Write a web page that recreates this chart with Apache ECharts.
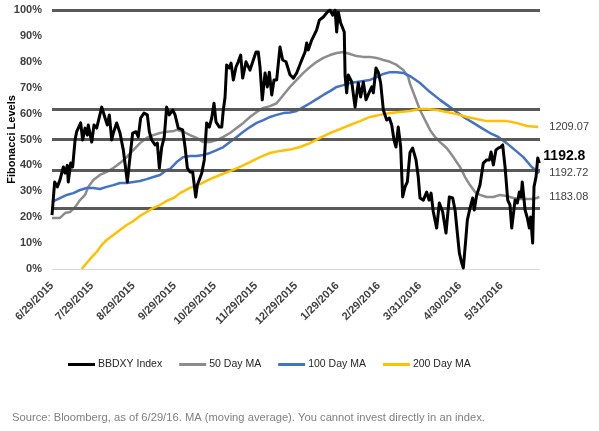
<!DOCTYPE html>
<html>
<head>
<meta charset="utf-8">
<script src="https://cdn.jsdelivr.net/npm/echarts@6/dist/echarts.min.js"></script>
<style>
  html, body { margin: 0; padding: 0; background: #fff; }
  #chart { width: 599px; height: 431px; }
</style>
</head>
<body>
<div id="chart"></div>
<script>
// x = days since 6/29/2015, y = Fibonacci level in %
const tickDates = ['6/29/2015', '7/29/2015', '8/29/2015', '9/29/2015', '10/29/2015', '11/29/2015',
  '12/29/2015', '1/29/2016', '2/29/2016', '3/31/2016', '4/30/2016', '5/31/2016'];
const fibLevels = [23.6, 38.2, 50, 61.8, 100];
const seriesNames = ['BBDXY Index', '50 Day MA', '100 Day MA', '200 Day MA'];
const endTexts = ['1192.8', '1183.08', '1192.72', '1209.07'];

const bbdxy = [
  [0, 20.8], [2, 33.6], [4, 31.7], [6, 34.4], [8.5, 39.4], [9.8, 37], [11.5, 40], [12.2, 33.6], [14, 40.9], [15.5, 39.4],
  [17.3, 49.8], [18.5, 53], [21.5, 56.4], [23, 49.8], [24.8, 54.4], [26.5, 51.7], [27.2, 55.6], [29.8, 49], [31.5, 55.6], [33.5, 54.4],
  [37.3, 62.5], [39.8, 58.3], [41.5, 55.6], [43, 59.5], [44.8, 49.8], [46, 52.5], [48.5, 56.4], [51, 52.5], [53.5, 45.9], [56.5, 33.6],
  [58, 40.9], [60.5, 52.5], [63, 53], [64.7, 51], [66.5, 58.3], [69, 60.2], [71.5, 59.5], [73, 53], [74.8, 49.8], [77.3, 47.9],
  [79, 48.6], [80.5, 39], [82.3, 47.1], [84.2, 51], [86, 62.5], [88, 59.5], [90.5, 61.4], [92.3, 59.5], [94.7, 54.4], [98, 53.7],
  [99.8, 47.1], [101.5, 39], [103.5, 37.5], [105.5, 37.5], [106.5, 33.2], [107.8, 27.8], [109, 32.4], [112.3, 37], [114.2, 42.1], [116, 56.4],
  [118, 54.8], [119.8, 58.3], [121.5, 64], [123, 56.8], [125.5, 54.8], [127.3, 54.8], [128.5, 61.4], [129.8, 66.4], [131, 78.8], [133, 77.6],
  [134.3, 79.5], [136, 73], [138, 78], [139.7, 80], [141.5, 82.6], [143, 73.7], [145.5, 80], [148.5, 76.8], [151, 80.7], [153, 83.8],
  [154.7, 83.8], [156, 78], [157.7, 65.3], [159.8, 75.7], [161.5, 70.3], [163, 76], [164.8, 67.2], [166.5, 73], [168.5, 73], [171, 85.7],
  [173, 80.7], [175.5, 80], [178.5, 75], [181, 73.7], [183.5, 75.7], [187.3, 80.7], [189.8, 83.8], [191, 87.3], [192.2, 84.6], [194.8, 88.4],
  [198.5, 92.3], [200.5, 96.1], [203.5, 97.3], [206.5, 99.2], [208.5, 100], [210.5, 98], [212.3, 100], [213.5, 91.5], [214.7, 99.2], [216.5, 95],
  [218, 95], [219.2, 91.5], [219.8, 74.9], [221, 68], [222.2, 74.9], [224.8, 72.2], [227.3, 62.5], [229.7, 71.8], [231.5, 66.4], [233.5, 72.2],
  [235.5, 65.3], [238, 68.3], [239.8, 70.3], [241, 68], [243, 77.6], [244.7, 76], [246.5, 71.8], [248.5, 61.4], [251, 57.5], [253, 58.3],
  [254.8, 55.6], [256.5, 49.8], [258, 47.1], [259.7, 54.8], [261.5, 47.1], [263, 27.8], [264.8, 31.7], [266.5, 33.6], [268.5, 45], [270.5, 46.7],
  [273, 42.1], [274.7, 35.5], [276, 27.4], [278.5, 26.6], [281, 29.7], [282.8, 26.6], [284.3, 29.3], [286, 22], [288.5, 15.8], [290.5, 25.5],
  [293, 22], [295.5, 13.9], [298, 27.8], [300.5, 27.4], [302.3, 22.8], [304, 13.9], [305.5, 6.2], [307.3, 2.3], [308.5, 0.4], [310.3, 11.2],
  [311.5, 18.9], [313.5, 23.5], [315.5, 27.4], [316.7, 22.8], [318.5, 28.6], [319.7, 29.3], [321, 32.4], [323.5, 40.9], [326, 42.1], [328, 42.1],
  [329.3, 45.2], [331, 40.2], [333, 46], [334.7, 46.7], [336.5, 47.1], [338, 47.9], [339.8, 39.4], [341.8, 26.6], [343.5, 24.7], [344.8, 15.8],
  [347.3, 26.6], [349, 25.5], [350.5, 29.7], [351.8, 27.8], [352.7, 33.6], [354.8, 22.8], [356.5, 19.7], [358, 15.8], [359, 20.1], [360.5, 10],
  [361.5, 31.7], [363, 35.5], [364.3, 42.9], [365.5, 40.9]
];

const ma50 = [
  [0, 19.7], [6, 19.7], [9.8, 21.6], [13.5, 22], [17.3, 23.9], [21, 26.6], [24.8, 28.6], [27.2, 31.7], [31, 34.4], [36, 36.3],
  [41, 37.5], [46, 39], [51, 40.9], [56, 43.2], [61, 45.9], [66, 48.6], [71, 50.6], [76, 51.7], [81, 52.5], [86, 53],
  [91.5, 53.3], [93.5, 53.7], [98.5, 53], [103.5, 51.7], [108.5, 50.6], [113.5, 49], [118.5, 49], [123.5, 49.8], [128.5, 51], [133.5, 52.5],
  [138.5, 54.4], [143.5, 56.4], [148.5, 58.7], [153.5, 60.6], [158.5, 62.2], [163.5, 62.9], [168.5, 64], [173.5, 67.2], [178.5, 70.3], [183.5, 73],
  [188.5, 75.7], [193.5, 78], [198.5, 80], [203.5, 81.5], [208.5, 82.6], [213.5, 83.4], [218.5, 83.8], [223.5, 83], [228.5, 82.2], [233.5, 81.9],
  [238.5, 81.9], [243.5, 81.5], [248.5, 80.7], [253.5, 80], [258.5, 78.8], [263.5, 76.8], [267.2, 74.1], [268.5, 71.5], [272.3, 66.4], [276, 61.4],
  [279.8, 57.5], [283.5, 53.7], [287.3, 51], [291, 49], [296, 46.7], [301, 43.2], [306, 39.4], [309.8, 35.5], [313.5, 32.4], [317.3, 29.7],
  [321, 28.6], [326, 27.8], [331, 27.8], [336, 28.6], [341, 28.2], [346, 27.4], [351, 27], [356, 27], [361, 27], [365.5, 27.8]
];

const ma100 = [
  [0, 25.9], [6, 27.4], [11, 28.6], [16, 29.3], [21, 30.5], [26, 31.3], [31, 31.3], [36, 30.9], [41, 31.7], [46, 32.4],
  [51, 33.2], [56, 33.2], [61, 33.6], [66, 34], [71, 34.7], [76, 35.5], [81, 36.3], [86, 38.2], [88.5, 38.6], [91.5, 40.2],
  [93.5, 41.3], [98.5, 43.2], [103.5, 43.6], [108.5, 43.6], [113.5, 44], [118.5, 44.8], [123.5, 45.9], [128.5, 47.1], [133.5, 49], [138.5, 51],
  [143.5, 53], [148.5, 54.8], [153.5, 56.4], [158.5, 57.5], [163.5, 58.7], [168.5, 59.5], [173.5, 60.2], [178.5, 60.4], [183.5, 61], [188.5, 62.5],
  [193.5, 64], [198.5, 65.6], [203.5, 67.2], [208.5, 68.7], [213.5, 70.3], [218.5, 71], [223.5, 71.8], [228.5, 72.2], [233.5, 72.6], [238.5, 73],
  [243.5, 74.1], [248.5, 75.3], [253.5, 76], [258.5, 76], [263.5, 75.7], [268.5, 74.5], [276, 71.8], [283.5, 68.3], [291, 65.3], [298.5, 62.5],
  [303.5, 60.6], [309.8, 58.3], [316, 56.4], [322.3, 54.4], [328.5, 52.5], [334.7, 51], [341, 48.6], [347.3, 45.9], [353.5, 43.2], [359.8, 39.4],
  [365.5, 37.1]
];

const ma200 = [
  [22.3, 0], [26, 2.3], [29.8, 4.6], [33.5, 6.6], [37.3, 9.3], [41, 11.2], [46, 13.1], [51, 15.1], [56, 17], [61, 18.5],
  [66, 20.5], [71, 22], [76, 23.6], [81, 24.7], [86, 26.3], [91.5, 27.5], [96, 29.3], [103.5, 31.3], [111, 32.8], [118.5, 34.7],
  [126, 36.3], [133.5, 37.8], [141, 39.4], [148.5, 41.3], [156, 43.2], [163.5, 44.8], [171, 45.6], [178.5, 46.1], [186, 47.1], [193.5, 48.6],
  [201, 50.6], [208.5, 52.5], [216, 54], [223.5, 55.6], [231, 57.1], [238.5, 58.7], [246, 59.5], [253.5, 60.2], [261, 60.6], [268.5, 61],
  [276, 61.8], [281, 61.8], [288.5, 61.4], [296, 60.6], [303.5, 59.8], [311, 58.7], [318.5, 57.9], [326, 57.1], [333.5, 57.1], [341, 57.1],
  [348.5, 56.4], [356, 55.2], [364.7, 54.8]
];

// 日期 -> 距 6/29/2015 的天数
const day0 = Date.UTC(2015, 5, 29);
function toDay(s) {
  const p = s.split('/');
  return Math.round((Date.UTC(+p[2], +p[0] - 1, +p[1]) - day0) / 864e5);
}
const tickDays = tickDates.map(toDay);
const tickLabel = {};
tickDays.forEach((d, i) => { tickLabel[d] = tickDates[i]; });

const chart = echarts.init(document.getElementById('chart'));

const colors = ['#000000', '#8c8c8c', '#4472c4', '#ffc000'];
const widths = [3, 2.5, 2.5, 2.5];
const datas = [bbdxy, ma50, ma100, ma200];
const endStyle = [
  { fontSize: 14, fontWeight: 'bold', color: '#000', distance: 4, offset: [0, -7] },
  { fontSize: 11, color: '#404040', distance: 10, offset: [0, 0] },
  { fontSize: 11, color: '#404040', distance: 10, offset: [0, 0] },
  { fontSize: 11, color: '#404040', distance: 11, offset: [0, 0] }
];

const series = [{
  // 斐波那契水平线
  type: 'line', data: [], silent: true, z: 1,
  markLine: {
    silent: true, symbol: 'none', animation: false,
    label: { show: false },
    lineStyle: { color: '#595959', width: 3, type: 'solid' },
    data: fibLevels.map(v => ({ yAxis: v }))
  }
}];
seriesNames.forEach((name, i) => {
  series.push({
    name: name, type: 'line', data: datas[i], showSymbol: false, symbol: 'none',
    z: i == 0 ? 6 : 2 + i,
    lineStyle: { color: colors[i], width: widths[i], join: 'round' },
    itemStyle: { color: colors[i] },
    endLabel: Object.assign({
      show: true, formatter: () => endTexts[i], fontFamily: 'Liberation Sans'
    }, endStyle[i])
  });
});

chart.setOption({
  animation: false,
  textStyle: { fontFamily: 'Liberation Sans' },
  grid: { left: 52, right: 59, top: 10, bottom: 162, outerBoundsMode: 'none' },
  xAxis: {
    type: 'value', min: 0, max: 366,
    axisLine: { lineStyle: { color: '#d9d9d9', width: 1 } },
    axisTick: { show: false },
    splitLine: { show: false },
    axisLabel: {
      customValues: tickDays, rotate: 45, margin: 15,
      color: '#404040', fontSize: 11, fontWeight: 'bold',
      formatter: v => tickLabel[v] || ''
    }
  },
  yAxis: {
    type: 'value', min: 0, max: 100, interval: 10,
    name: 'Fibonacci Levels', nameLocation: 'middle', nameGap: 35, nameRotate: 90, nameMoveOverlap: false,
    nameTextStyle: { color: '#000', fontSize: 11, fontWeight: 'bold' },
    axisLine: { show: false }, axisTick: { show: false },
    splitLine: { show: false },
    axisLabel: { formatter: '{value}%', color: '#404040', fontSize: 11, fontWeight: 'bold', margin: 10 }
  },
  legend: {
    data: seriesNames, left: 63, top: 354, icon: 'rect', itemWidth: 27, itemHeight: 3, itemGap: 17,
    textStyle: { color: '#262626', fontSize: 10.5, padding: [0, 0, 0, -2] }
  },
  graphic: [{
    type: 'text', left: 12, top: 412,
    style: {
      text: 'Source: Bloomberg, as of 6/29/16. MA (moving average). You cannot invest directly in an index.',
      fill: '#7f7f7f', fontSize: 11.2, fontFamily: 'Liberation Sans'
    }
  }],
  series: series
});
</script>
</body>
</html>
